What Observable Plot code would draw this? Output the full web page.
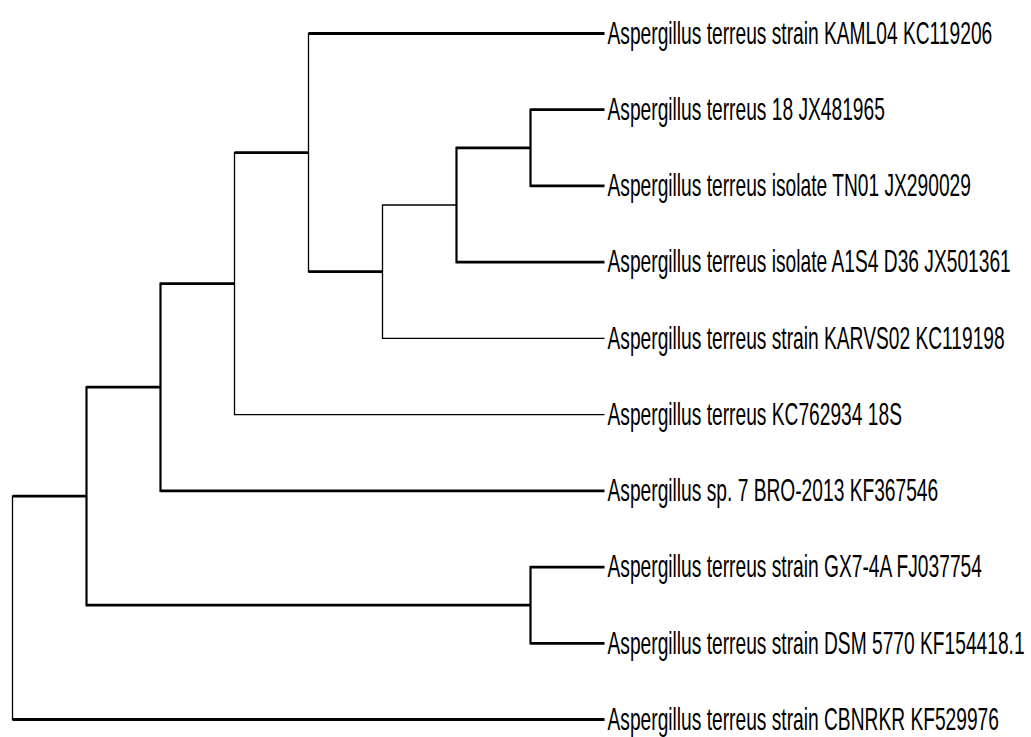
<!DOCTYPE html>
<html>
<head>
<meta charset="utf-8">
<script src="https://cdn.jsdelivr.net/npm/d3@7"></script>
<script src="https://cdn.jsdelivr.net/npm/@observablehq/plot@0.6"></script>
<style>
  body { margin: 0; background: #fff; }
</style>
</head>
<body>
<div id="chart"></div>
<script>
// ---- Data: tree topology (leaves in display order, top to bottom) ----
const leafLabels = [
  "Aspergillus terreus strain KAML04 KC119206",
  "Aspergillus terreus 18 JX481965",
  "Aspergillus terreus isolate TN01 JX290029",
  "Aspergillus terreus isolate A1S4 D36 JX501361",
  "Aspergillus terreus strain KARVS02 KC119198",
  "Aspergillus terreus KC762934 18S",
  "Aspergillus sp. 7 BRO-2013 KF367546",
  "Aspergillus terreus strain GX7-4A FJ037754",
  "Aspergillus terreus strain DSM 5770 KF154418.1",
  "Aspergillus terreus strain CBNRKR KF529976"
];
const leafParents = ["n4", "n7", "n7", "n6", "n5", "n3", "n2", "n8", "n8", "root"];
const nodeIds = ["root", "n1", "n2", "n3", "n4", "n5", "n6", "n7", "n8"];
const nodeParents = [null, "root", "n1", "n2", "n3", "n4", "n5", "n6", "n1"];

// ---- Styling (kept apart from the data) ----
const thinHorizontal = new Set(["n6", "Aspergillus terreus strain KARVS02 KC119198", "Aspergillus terreus KC762934 18S"]);
const thinVertical = new Set(["root", "n3", "n4", "n5"]);

// ---- Layout via d3.hierarchy / d3.cluster ----
const table = [
  ...nodeIds.map((id, i) => ({id, parent: nodeParents[i], order: Infinity})),
  ...leafLabels.map((id, i) => ({id, parent: leafParents[i], order: i}))
];
const root = d3.stratify().id(d => d.id).parentId(d => d.parent)(table);
root.eachAfter(n => {
  if (n.children) n.data.order = d3.min(n.children, c => c.data.order);
});
root.sort((a, b) => a.data.order - b.data.order);
d3.cluster().nodeSize([1, 1]).separation(() => 1)(root);

const nodes = root.descendants();
const leaves = root.leaves();
const hSegs = nodes.filter(n => n.parent).map(n => ({
  id: n.data.id, x1: n.parent.y, x2: n.y, y: n.x
}));
const vSegs = nodes.filter(n => n.children).map(n => ({
  id: n.data.id, x: n.y,
  y1: d3.min(n.children, c => c.x), y2: d3.max(n.children, c => c.x)
}));
const depthMax = d3.max(nodes, n => n.y);
const yExtent = d3.extent(leaves, n => n.x);

const chart = Plot.plot({
  width: 1031,
  height: 737,
  marginLeft: 12,
  marginRight: 427,
  marginTop: 33,
  marginBottom: 18,
  x: {domain: [0, depthMax], axis: null},
  y: {domain: yExtent, reverse: true, axis: null},
  marks: [
    Plot.link(vSegs, {
      x1: "x", x2: "x", y1: "y1", y2: "y2",
      stroke: "#000",
      strokeWidth: d => thinVertical.has(d.id) ? 1.3 : 2.2,
      strokeLinecap: "square"
    }),
    Plot.link(hSegs, {
      x1: "x1", x2: "x2", y1: "y", y2: "y",
      stroke: "#000",
      strokeWidth: d => thinHorizontal.has(d.id) ? 1.3 : 2.8
    }),
    Plot.text(leaves, {
      x: d => d.y,
      y: d => d.x,
      text: d => d.data.id,
      textAnchor: "start",
      dx: 3,
      fontSize: 32,
      fontFamily: "'Liberation Sans', Arial, sans-serif",
      fill: "#000"
    })
  ]
});

document.getElementById("chart").appendChild(chart);

// Condense the label glyphs horizontally, as in the reference
chart.querySelectorAll("g[aria-label='text'] text").forEach(t => {
  const tr = t.getAttribute("transform");
  if (tr) {
    t.setAttribute("transform", tr + " scale(0.6,1)");
  } else {
    const x = +t.getAttribute("x") || 0, y = +t.getAttribute("y") || 0;
    t.removeAttribute("x"); t.removeAttribute("y");
    t.setAttribute("transform", `translate(${x},${y}) scale(0.6,1)`);
  }
});
</script>
</body>
</html>
